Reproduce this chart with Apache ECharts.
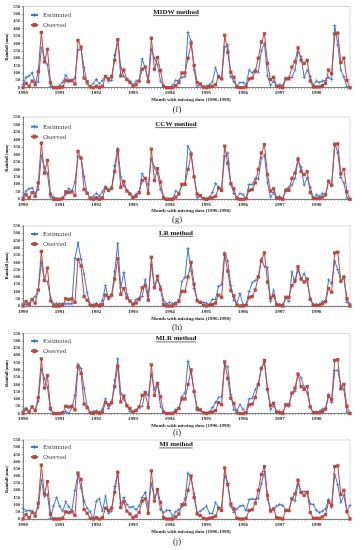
<!DOCTYPE html>
<html><head><meta charset="utf-8">
<script src="https://cdn.jsdelivr.net/npm/echarts@6/dist/echarts.min.js"></script>
<style>html,body{margin:0;padding:0;background:#fff}#c{width:364px;height:550px}</style>
</head><body><div id="c"></div>
<script>
// ---- DATA ----
const years = ['1990','1991','1992','1993','1994','1995','1996','1997','1998'];
const methods = ['MIDW method','CCW method','LR method','MLR method','MI method'];
const panelLetters = ['(f)','(g)','(h)','(i)','(j)'];
const seriesNames = ['Estimated','Oserved'];
const yMin = 0, yMax = 550, yStep = 50;

const observed = [
 0,30,10,45,20,110,375,175,260,35,0,0,
 0,5,50,45,50,25,320,275,65,40,5,0,
 10,0,10,75,60,75,185,325,80,120,55,35,
 10,20,45,125,140,40,335,125,205,115,10,0,
 0,0,15,35,100,100,200,300,150,35,25,5,
 0,5,10,20,75,60,355,240,105,70,5,0,
 0,5,60,65,110,200,310,365,165,55,70,10,
 5,0,60,60,140,175,270,185,165,185,45,5,
 5,5,15,30,120,95,365,370,170,200,50,0];

const estMIDW = [
 20,70,80,100,35,40,270,200,155,10,0,0,
 15,35,85,50,45,65,255,260,135,25,10,30,
 55,25,50,80,45,50,220,325,140,75,55,45,
 20,45,45,195,130,45,260,200,155,45,5,0,
 0,15,50,50,70,75,375,315,120,5,20,0,
 10,20,40,135,70,60,275,290,75,40,10,35,
 35,20,120,100,125,105,250,300,80,15,45,10,
 20,15,65,70,70,120,240,210,70,120,75,15,
 45,35,45,50,70,55,420,290,120,75,5,0];

const estCCW = [
 15,55,70,75,40,65,290,215,170,15,15,5,
 0,10,30,70,55,115,285,280,150,40,10,20,
 40,20,50,85,65,70,225,340,150,90,60,40,
 15,35,40,170,130,95,270,215,175,65,15,0,
 0,5,55,40,95,100,355,310,150,10,20,5,
 5,15,45,105,80,75,285,310,100,40,10,40,
 30,5,100,100,140,135,275,295,110,15,45,5,
 20,5,65,80,95,140,260,215,95,145,80,10,
 30,20,40,30,120,90,375,310,145,110,10,0];

const estLR = [
 15,10,20,40,65,110,300,180,165,60,15,15,
 15,15,15,15,15,325,435,320,220,90,10,10,
 15,10,40,140,45,70,235,430,125,230,80,30,
 15,45,55,65,180,70,285,130,180,135,40,15,
 25,15,25,25,170,195,395,240,120,40,25,25,
 20,10,45,45,135,150,365,310,140,40,20,85,
 10,10,100,160,175,195,325,270,265,30,110,10,
 10,10,55,30,235,160,250,185,225,165,50,10,
 10,10,30,30,180,155,310,250,170,195,25,15];

const estMLR = [
 15,35,15,45,25,85,305,240,180,25,0,0,
 0,5,15,0,40,125,340,310,175,50,5,15,
 15,10,30,100,35,70,225,375,140,100,50,15,
 10,25,45,50,150,125,270,165,210,50,10,0,
 0,5,25,35,115,140,360,280,150,20,20,5,
 5,10,40,75,110,115,335,320,130,25,20,60,
 30,5,100,105,165,200,310,350,165,25,55,15,
 15,10,55,50,140,150,275,245,180,140,45,5,
 10,15,30,35,130,75,295,295,195,165,10,0];

const estMI = [
 75,55,60,55,40,80,270,155,170,5,90,150,
 90,55,120,85,60,200,310,215,125,75,50,0,
 125,140,55,160,40,55,225,325,105,150,100,80,
 85,65,90,150,185,85,245,150,195,65,45,60,
 60,20,50,65,85,140,320,280,175,40,55,70,
 90,40,40,115,80,80,305,250,90,45,70,90,
 95,60,135,140,135,145,245,330,140,65,70,90,
 100,95,60,55,145,125,245,185,190,190,105,100,
 60,45,55,70,135,80,310,240,115,165,55,95];

const estimates = [estMIDW, estCCW, estLR, estMLR, estMI];

// ---- LAYOUT ----
const months = [];
years.forEach(y => { for (let m = 1; m <= 12; m++) months.push(y + '-' + (m < 10 ? '0' + m : m)); });

const FONT = '"Liberation Serif", "DejaVu Serif", serif';
const BLUE = '#4077C6', RED = '#C0443F';
const PLOT_L = 23, PLOT_R = 350;
const P = [
 {top:6.5, bottom:87.7, title:12, leg:15, xt:99.3, let:110},
 {top:117, bottom:199.3, title:124, leg:126.7, xt:210.7, let:220},
 {top:226, bottom:306, title:232.7, leg:234, xt:318.7, let:327.5},
 {top:333.5, bottom:413.5, title:338.3, leg:341, xt:425.3, let:433},
 {top:440, bottom:519, title:444.3, leg:447, xt:531.7, let:542}
];
const plusPath = 'path://M4,0H6V4H10V6H6V10H4V6H0V4H4Z';

const ctx = document.createElement('canvas').getContext('2d');
function textW(t, font) { ctx.font = font; return ctx.measureText(t).width; }

const grid = [], xAxis = [], yAxis = [], series = [], legend = [], graphic = [];
P.forEach((p, k) => {
  grid.push({left: PLOT_L, top: p.top, width: PLOT_R - PLOT_L, height: p.bottom - p.top,
    show: true, borderColor: '#cfcfcf', borderWidth: 0.8, backgroundColor: 'transparent'});
  xAxis.push({type: 'category', gridIndex: k, data: months, boundaryGap: false,
    axisLine: {lineStyle: {color: '#666', width: 0.8}},
    axisTick: {show: true, interval: 0, length: 1.5, lineStyle: {color: '#777', width: 0.6}},
    axisLabel: {interval: (i) => i % 12 === 0, formatter: v => v.slice(0, 4),
      fontSize: 5, fontFamily: FONT, color: '#222', margin: 3, fontWeight: 'bold'},
    splitLine: {show: false}});
  yAxis.push({type: 'value', gridIndex: k, min: yMin, max: yMax, interval: yStep,
    axisLine: {show: true, lineStyle: {color: '#666', width: 0.8}},
    axisTick: {show: true, length: 1.5, lineStyle: {color: '#777', width: 0.6}},
    axisLabel: {fontSize: 4.5, fontFamily: FONT, color: '#222', margin: 3, fontWeight: 'bold'},
    splitLine: {show: false}});
  series.push({type: 'line', name: seriesNames[0], xAxisIndex: k, yAxisIndex: k, data: estimates[k],
    symbol: plusPath, symbolSize: 3.5, showAllSymbol: true,
    lineStyle: {width: 1, color: BLUE}, itemStyle: {color: BLUE}, z: 2});
  series.push({type: 'line', name: seriesNames[1], xAxisIndex: k, yAxisIndex: k, data: observed,
    symbol: 'rect', symbolSize: 3.3, showAllSymbol: true,
    lineStyle: {width: 1, color: RED}, itemStyle: {color: RED}, z: 3});
  legend.push({data: seriesNames, orient: 'vertical', left: 30, top: p.leg - 4, padding: 0,
    itemWidth: 7, itemHeight: 5, itemGap: 2, selectedMode: false,
    textStyle: {fontSize: 7, fontFamily: FONT, color: '#444', lineHeight: 8}});
  const tFont = 'bold 7px ' + FONT;
  const tw = textW(methods[k], tFont);
  const cx = 176;
  graphic.push({type: 'text', x: cx, y: p.title, style: {text: methods[k], fontSize: 7, fontWeight: 'bold',
    fontFamily: FONT, fill: '#111', align: 'center', verticalAlign: 'middle'}});
  graphic.push({type: 'line', shape: {x1: cx - tw / 2, y1: p.title + 3.6, x2: cx + tw / 2, y2: p.title + 3.6},
    style: {stroke: '#111', lineWidth: 0.6}});
  graphic.push({type: 'text', x: 191, y: p.xt, style: {text: 'Month with missing data (1990-1998)', fontSize: 5,
    fontWeight: 'bold', fontFamily: FONT, fill: '#222', align: 'center', verticalAlign: 'middle'}});
  graphic.push({type: 'text', x: 177, y: p.let, style: {text: panelLetters[k], fontSize: 8.5,
    fontFamily: FONT, fill: '#222', align: 'center', verticalAlign: 'middle'}});
  graphic.push({type: 'text', x: 7, y: (p.top + p.bottom) / 2, rotation: Math.PI / 2,
    style: {text: 'Rainfall (mm)', fontSize: 4.5, fontWeight: 'bold', fontFamily: FONT, fill: '#222',
      align: 'center', verticalAlign: 'middle'}});
});

const chart = echarts.init(document.getElementById('c'), null, {renderer: 'canvas'});
chart.setOption({animation: false, backgroundColor: '#fff', grid, xAxis, yAxis, series, legend, graphic});
</script></body></html>
